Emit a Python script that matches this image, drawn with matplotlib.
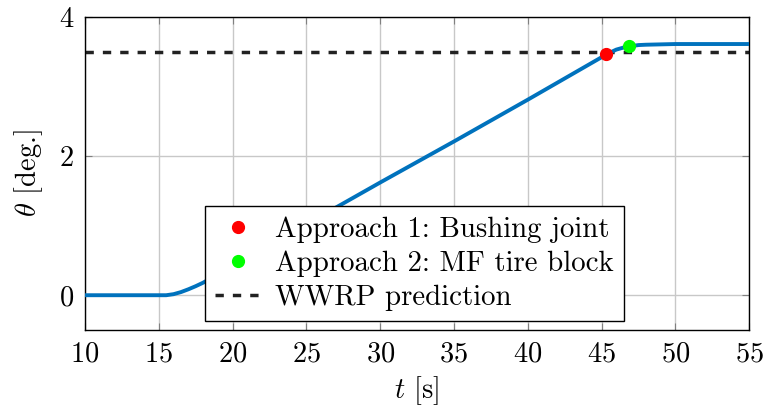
import matplotlib

matplotlib.use("Agg")
import matplotlib.pyplot as plt

# sampled trajectory of the wheel angle over time
t_values = [10.0, 15.0, 15.5, 16.0, 16.5, 17.0, 17.5, 18.0, 18.5, 19.0, 20.0,
            22.0, 25.0, 30.0, 35.0, 40.0, 45.0, 45.5, 46.0, 46.5, 47.0,
            47.5, 48.0, 49.0, 50.0, 55.0]
theta_values = [0.0, 0.0, 0.0, 0.015, 0.045, 0.085, 0.13, 0.18, 0.24, 0.30, 0.42,
                0.66, 1.02, 1.62, 2.21, 2.81, 3.42, 3.48, 3.53, 3.56, 3.58,
                3.595, 3.60, 3.605, 3.61, 3.61]

approach1 = (45.3, 3.465)
approach2 = (46.88, 3.575)
wwrp_level = 3.49

x_ticks = [10, 15, 20, 25, 30, 35, 40, 45, 50, 55]
y_ticks = [0, 2, 4]

FS = 20.5

plt.rcParams["font.family"] = ["cmr10", "DejaVu Serif"]
plt.rcParams["mathtext.fontset"] = "cm"
plt.rcParams["axes.unicode_minus"] = False
plt.rcParams["axes.formatter.use_mathtext"] = True

fig, ax = plt.subplots(figsize=(7.66, 4.12), dpi=100)
fig.subplots_adjust(left=0.111, right=0.978, top=0.959, bottom=0.199)

ax.plot(t_values, theta_values, color="#0072BD", linewidth=2.8, zorder=3,
        solid_capstyle="butt")
ax.axhline(wwrp_level, color="#222222", linewidth=2.5, dashes=(2.4, 2.6),
           label="WWRP prediction", zorder=2)
ax.plot(*approach1, "o", color="#ff0000", markersize=8.5,
        label="Approach 1: Bushing joint", zorder=4)
ax.plot(*approach2, "o", color="#00ff00", markersize=8.5,
        label="Approach 2: MF tire block", zorder=4)

ax.set_xlim(10, 55)
ax.set_ylim(-0.5, 4)
ax.set_xticks(x_ticks)
ax.set_yticks(y_ticks)
ax.grid(True, color="#c8c8c8", linewidth=1.0)
ax.set_axisbelow(True)
ax.tick_params(direction="in", length=5, width=0.8, color="#808080",
               top=True, right=True, labelsize=FS, pad=8)
for spine in ax.spines.values():
    spine.set_linewidth(1.0)
    spine.set_color("black")

ax.set_xlabel(r"$t$ [s]", fontsize=FS, labelpad=5)
ax.set_ylabel(r"$\theta$ [deg.]", fontsize=FS, labelpad=10)

handles, labels = ax.get_legend_handles_labels()
order = [1, 2, 0]
leg = ax.legend([handles[i] for i in order], [labels[i] for i in order],
                loc="lower center", bbox_to_anchor=(0.496, 0.029),
                fontsize=FS + 0.3, fancybox=False, framealpha=1, edgecolor="black",
                borderpad=0.35, labelspacing=0.26, handlelength=1.55,
                handletextpad=0.5, borderaxespad=0)
leg.get_frame().set_linewidth(1.0)

fig.savefig("out.png", dpi=100)
